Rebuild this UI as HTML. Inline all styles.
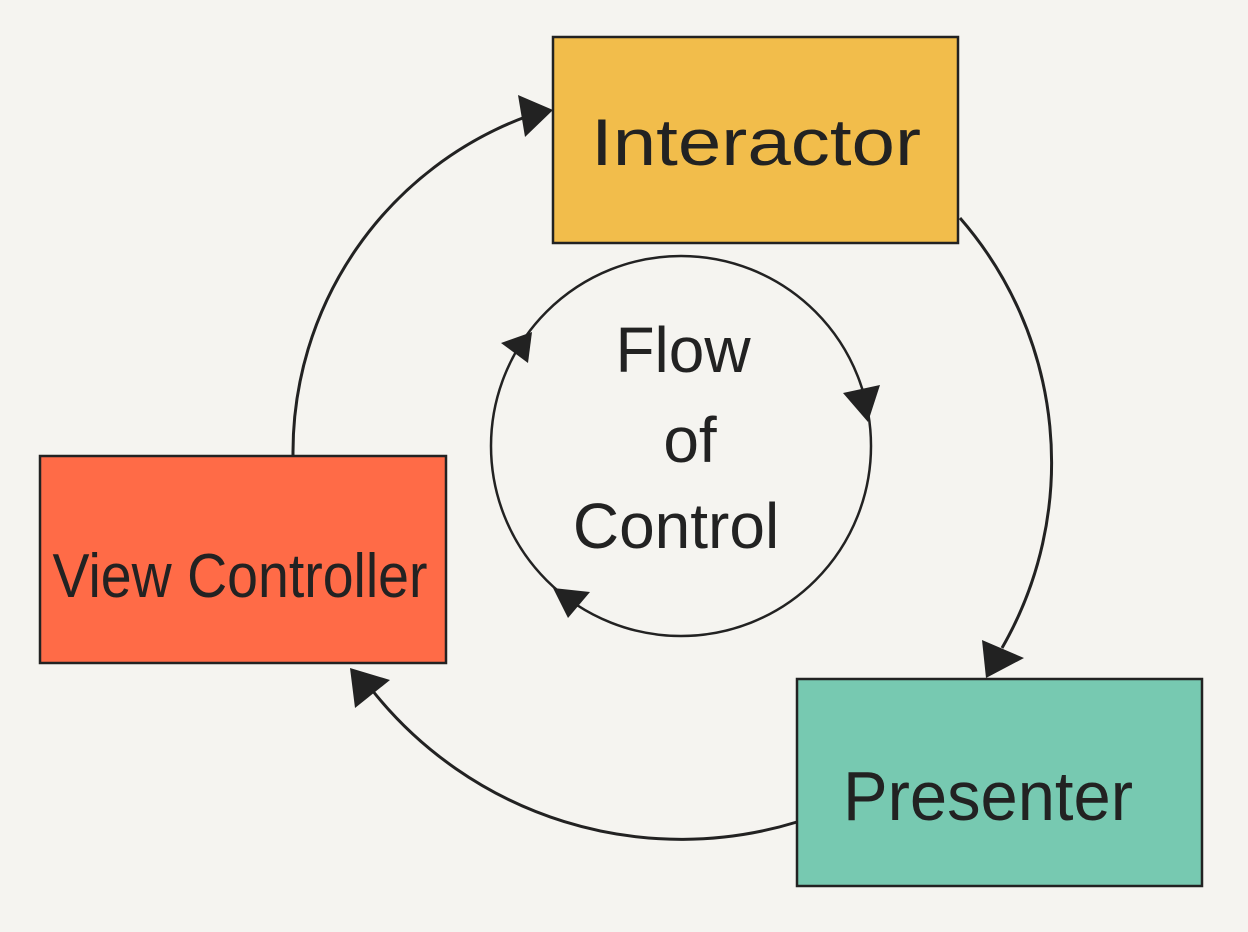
<!DOCTYPE html>
<html><head><meta charset="utf-8"><style>
html,body{margin:0;padding:0;background:#F5F4F0;}
svg{display:block;}
text{font-family:"Liberation Sans",sans-serif;fill:#222;}
</style></head><body>
<svg width="1248" height="932" viewBox="0 0 1248 932" xmlns="http://www.w3.org/2000/svg">
<rect width="1248" height="932" fill="#F5F4F0"/>
<g fill="none" stroke="#222" stroke-width="3">
<path d="M293,455 A358,358 0 0 1 528,116"/>
<path d="M960,218 A372,372 0 0 1 1002,648"/>
<path d="M797,822 A395,395 0 0 1 372,690"/>
<circle cx="681" cy="446" r="190" stroke-width="2.5"/>
</g>
<g fill="#222">
<polygon points="518,95 553,110 525,137"/>
<polygon points="982,640 1024,658 986,678"/>
<polygon points="350,668 390,680 355,708"/>
<polygon points="501,343 532,332 528,363"/>
<polygon points="843,393 880,385 868,422"/>
<polygon points="553,588 590,592 568,618"/>
</g>
<rect x="553" y="37" width="405" height="206" fill="#F2BD4B" stroke="#222" stroke-width="2.5"/>
<rect x="40" y="456" width="406" height="207" fill="#FF6B47" stroke="#222" stroke-width="2.5"/>
<rect x="797" y="679" width="405" height="207" fill="#77C9B1" stroke="#222" stroke-width="2.5"/>
<text x="756" y="165" font-size="66" text-anchor="middle" textLength="330" lengthAdjust="spacingAndGlyphs">Interactor</text>
<text x="240" y="597" font-size="62" text-anchor="middle" textLength="375" lengthAdjust="spacingAndGlyphs">View Controller</text>
<text x="988" y="820" font-size="70" text-anchor="middle" textLength="290" lengthAdjust="spacingAndGlyphs">Presenter</text>
<text x="683" y="372" font-size="64" text-anchor="middle">Flow</text>
<text x="690" y="462" font-size="64" text-anchor="middle">of</text>
<text x="676" y="548" font-size="64" text-anchor="middle">Control</text>
</svg>
</body></html>
